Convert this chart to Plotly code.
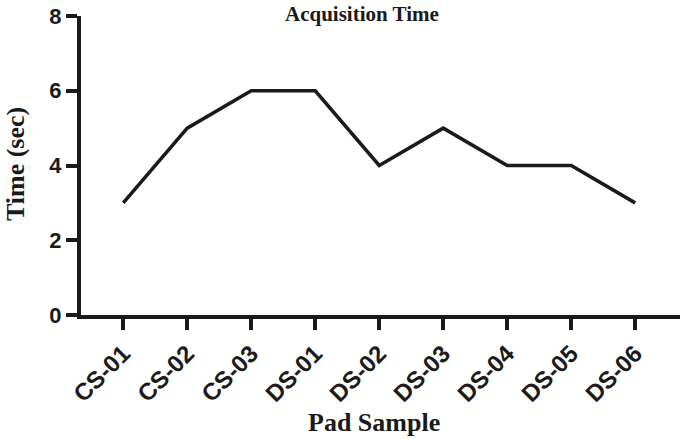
import plotly.graph_objects as go

categories = ["CS-01", "CS-02", "CS-03", "DS-01", "DS-02", "DS-03", "DS-04", "DS-05", "DS-06"]
times = [3, 5, 6, 6, 4, 5, 4, 4, 3]
y_ticks = [0, 2, 4, 6, 8]

fig = go.Figure()
fig.add_trace(go.Scatter(
    x=list(range(len(categories))), y=times, mode="lines",
    line=dict(color="#1a1a1a", width=3.5), showlegend=False,
))

serif = "Liberation Serif, Times New Roman, serif"
sans = "Liberation Sans, Arial, sans-serif"
ink = "#1a1a1a"

fig.update_layout(
    width=685, height=439,
    margin=dict(l=81, r=5, t=16, b=124),
    plot_bgcolor="white", paper_bgcolor="white",
    xaxis=dict(
        tickmode="array", tickvals=list(range(len(categories))), ticktext=categories,
        range=[-0.66, 8.7], showgrid=False, zeroline=False, automargin=False,
        showline=True, linecolor=ink, linewidth=4,
        ticks="outside", ticklen=11, tickwidth=4, tickcolor=ink,
        tickangle=-45, tickfont=dict(family=sans, size=24, color=ink, weight="bold"),
    ),
    yaxis=dict(
        range=[0, 8], tickvals=y_ticks, showgrid=False, zeroline=False, automargin=False,
        showline=True, linecolor=ink, linewidth=4,
        ticks="outside", ticklen=11, tickwidth=4, tickcolor=ink,
        tickfont=dict(family=sans, size=22, color=ink, weight="bold"),
    ),
    annotations=[
        dict(text="<b>Acquisition Time</b>", xref="paper", yref="paper", x=0.469, y=1.007,
             xanchor="center", yanchor="middle", showarrow=False,
             font=dict(family=serif, size=21, color=ink)),
        dict(text="<b>Pad Sample</b>", xref="paper", yref="paper", x=0.489, y=-0.358,
             xanchor="center", yanchor="middle", showarrow=False,
             font=dict(family=serif, size=26, color=ink)),
        dict(text="<b>Time (sec)</b>", xref="paper", yref="paper", x=-0.110, y=0.505,
             xanchor="center", yanchor="middle", showarrow=False, textangle=-90,
             font=dict(family=serif, size=26, color=ink)),
    ],
)

fig.write_html("out.html", config={"displayModeBar": False},
               post_script="document.body.style.margin='0';document.body.style.overflow='hidden';")
